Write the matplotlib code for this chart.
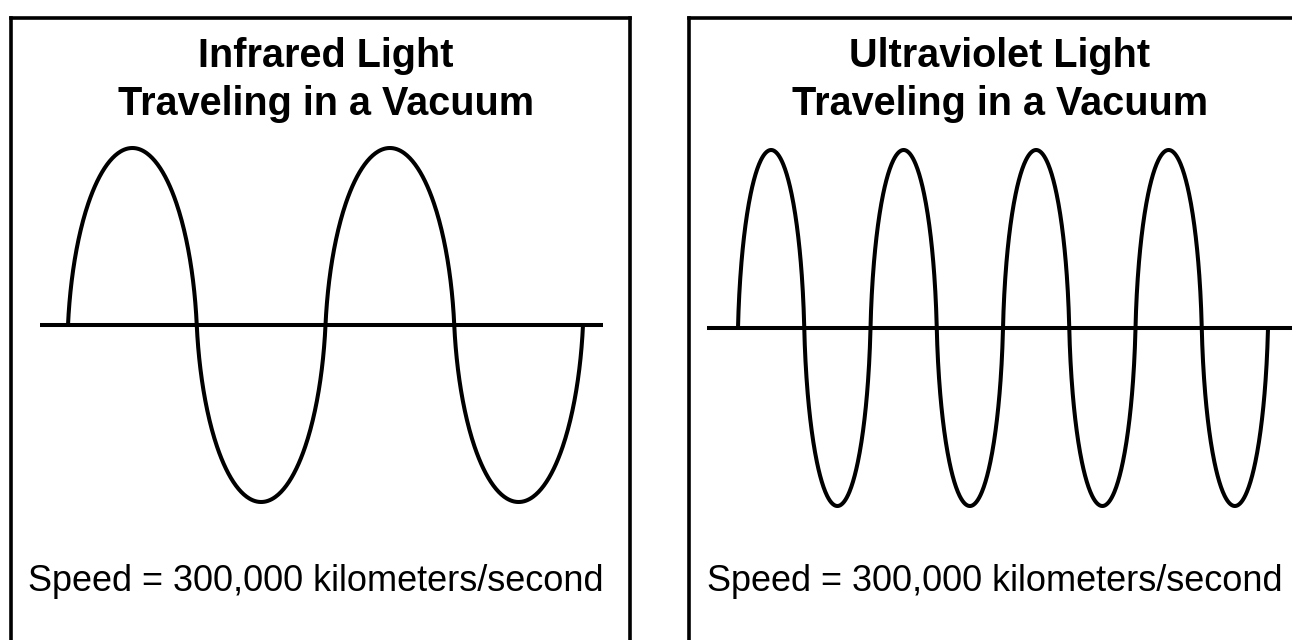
import numpy as np
import matplotlib
matplotlib.use('Agg')
from matplotlib import pyplot as plt

# panel content
titles = ['Infrared Light', 'Ultraviolet Light']
subtitle = 'Traveling in a Vacuum'
speed_label = 'Speed = 300,000 kilometers/second'
cycles = [2, 4]          # full waves drawn in each panel

W, H = 1292, 640
fig = plt.figure(figsize=(W / 100, H / 100), dpi=100)

# pixel layout of each panel: box left/right, wave start/end, axis line start/end,
# axis height, amplitude, title centre, speed text left
layout = [
    dict(box=(10.5, 630), wave=(68, 583), axis=(40, 603), y0=325, amp=177, cx=326, tx=28),
    dict(box=(688.5, 1320), wave=(738, 1268), axis=(707, 1320), y0=328, amp=178, cx=1000, tx=707),
]
box_top, box_bot = 17.5, 720


def wave(n, blend=0.2, pts=200):
    # hand-drawn style wave: each half cycle is a rounded lobe,
    # somewhere between an ellipse (blend=0) and a sine (blend=1)
    t = np.linspace(0, np.pi, pts)
    s = (1 - blend) * (1 - np.cos(t)) / 2 + blend * t / np.pi
    xs, ys = [], []
    for k in range(2 * n):
        xs.append((k + s) / 2)
        ys.append((-1) ** k * np.sin(t))
    return np.concatenate(xs), np.concatenate(ys)


for title, n, lay in zip(titles, cycles, layout):
    bx0, bx1 = lay['box']
    ax = fig.add_axes([bx0 / W, 1 - box_bot / H, (bx1 - bx0) / W, (box_bot - box_top) / H])
    ax.set_xticks([])
    ax.set_yticks([])
    for s in ax.spines.values():
        s.set_linewidth(2.6)
        s.set_color('black')

    # map pixels -> data units (cycles, amplitude)
    w0, w1 = lay['wave']
    period = (w1 - w0) / n
    px2x = lambda p: (p - w0) / period
    py2y = lambda p: (lay['y0'] - p) / lay['amp']
    ax.set_xlim(px2x(bx0), px2x(bx1))
    ax.set_ylim(py2y(box_bot), py2y(box_top))

    a0, a1 = lay['axis']
    ax.plot([px2x(a0), px2x(a1)], [0, 0], color='black', lw=2.9, solid_capstyle='butt')

    x, y = wave(n)
    ax.plot(x, y, color='black', lw=2.9, solid_capstyle='butt')

    fig.text(lay['cx'] / W, 1 - 67 / H, title, ha='center', va='baseline',
             fontsize=28.5, fontweight='bold', family='Liberation Sans')
    fig.text(lay['cx'] / W, 1 - 115 / H, subtitle, ha='center', va='baseline',
             fontsize=28.5, fontweight='bold', family='Liberation Sans')
    fig.text(lay['tx'] / W, 1 - 591 / H, speed_label, ha='left', va='baseline',
             fontsize=26, family='Liberation Sans')

fig.savefig('out.png', dpi=100, facecolor='white')
